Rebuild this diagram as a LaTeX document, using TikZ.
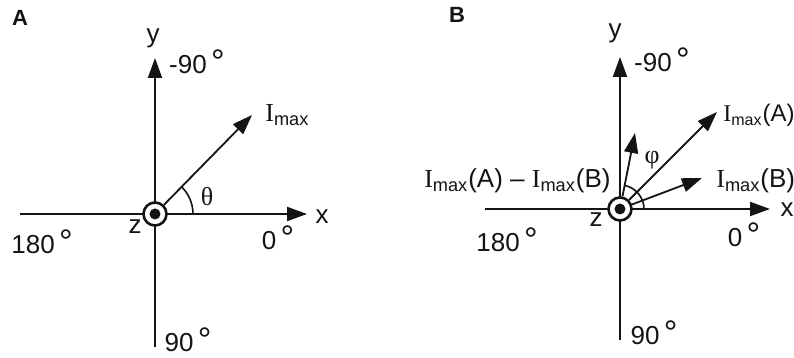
\documentclass[tikz,border=0pt]{standalone}
\usepackage{fontspec}
\setmainfont{Liberation Sans}
\newfontfamily\serifI{Liberation Serif}
\usetikzlibrary{arrows.meta,positioning,calc}
\definecolor{AxisInk}{HTML}{141414}
\newcommand{\Imax}{{\serifI I}\textsubscript{max}}
\newcommand{\degsign}{\,{\fontsize{17}{17}\selectfont °}}
\tikzset{
  axisline/.style={line width=1pt,draw=AxisInk},
  axisarrow/.style={axisline,-{Triangle[length=10pt,width=7pt]}},
  vecarrow/.style={line width=0.9pt,draw=AxisInk,-{Triangle[length=10pt,width=7pt]}},
  anglearc/.style={line width=0.8pt,draw=AxisInk},
  zmark/.style={circle,draw=AxisInk,line width=1.3pt,fill=white,minimum size=11.5pt,inner sep=0pt},
  axislabel/.style={font=\fontsize{13}{15}\selectfont,text=AxisInk,inner sep=1pt},
  veclabel/.style={font=\fontsize{13}{15}\selectfont,text=AxisInk,inner sep=1pt},
  panellabel/.style={font=\bfseries\fontsize{11}{13}\selectfont,text=AxisInk}
}
\begin{document}
\begin{tikzpicture}[x=0.5pt,y=0.5pt]
\useasboundingbox (0,0) rectangle (794,358);
% panel A
\node[panellabel] (panA) at (20,340) {A};
\coordinate (axL) at (20,144);
\coordinate (axR) at (307,144);
\coordinate (ayB) at (155,11);
\coordinate (ayT) at (155,300);
\draw[axisarrow] (axL) -- (axR);
\draw[axisarrow] (ayB) -- (ayT);
\node[zmark] (oa) at (155,144) {};
\fill[AxisInk] (oa) circle (5.5);
\coordinate (imA) at (252,243);
\draw[vecarrow] (oa) -- (imA);
\draw[anglearc] ($(oa)+(38,0)$) arc[start angle=0,end angle=46,radius=38];
\node[veclabel,anchor=base west] (imaxA) at (263,236) {\Imax};
\node[veclabel] (thetaA) at (207,161) {\serifI θ};
\node[axislabel] (ylabA) at (153,320) {y};
\node[axislabel] (m90A) at (197,296) {-90\degsign};
\node[axislabel] (xlabA) at (322,141) {x};
\node[axislabel] (d180A) at (42,116) {180\degsign};
\node[axislabel] (d0A) at (278,120) {0\degsign};
\node[axislabel] (d90A) at (188,18) {90\degsign};
\node[axislabel] (zlabA) at (135,131) {z};

% panel B
\node[panellabel] (panB) at (457,343) {B};
\coordinate (bxL) at (485,149);
\coordinate (bxR) at (770,149);
\coordinate (byB) at (620,18);
\coordinate (byT) at (620,301);
\draw[axisarrow] (bxL) -- (bxR);
\draw[axisarrow] (byB) -- (byT);
\node[zmark] (ob) at (620,149) {};
\fill[AxisInk] (ob) circle (5.5);
\coordinate (imBa) at (717,246);
\coordinate (imBb) at (702,180);
\coordinate (imBd) at (635,225);
\draw[vecarrow] (ob) -- (imBa);
\draw[vecarrow] (ob) -- (imBb);
\draw[vecarrow] (ob) -- (imBd);
\draw[anglearc] ($(ob)+(24,0)$) arc[start angle=0,end angle=79,radius=24];
\node[veclabel,anchor=base west,font=\fontsize{12}{14}\selectfont,inner sep=0pt] (imaxBa) at (723,236) {\Imax(A)};
\node[veclabel,anchor=base west] (imaxBb) at (714,170) {\Imax(B)};
\node[veclabel,anchor=base east] (imaxBd) at (613,170) {\Imax(A) – \Imax(B)};
\node[veclabel] (phiB) at (652,198) {\serifI φ};
\node[axislabel] (ylabB) at (615,325) {y};
\node[axislabel] (m90B) at (662,298) {-90\degsign};
\node[axislabel] (xlabB) at (787,148) {x};
\node[axislabel] (d180B) at (507,118) {180\degsign};
\node[axislabel] (d0B) at (744,123) {0\degsign};
\node[axislabel] (d90B) at (654,25) {90\degsign};
\node[axislabel] (zlabB) at (596,138) {z};
\end{tikzpicture}
\end{document}
